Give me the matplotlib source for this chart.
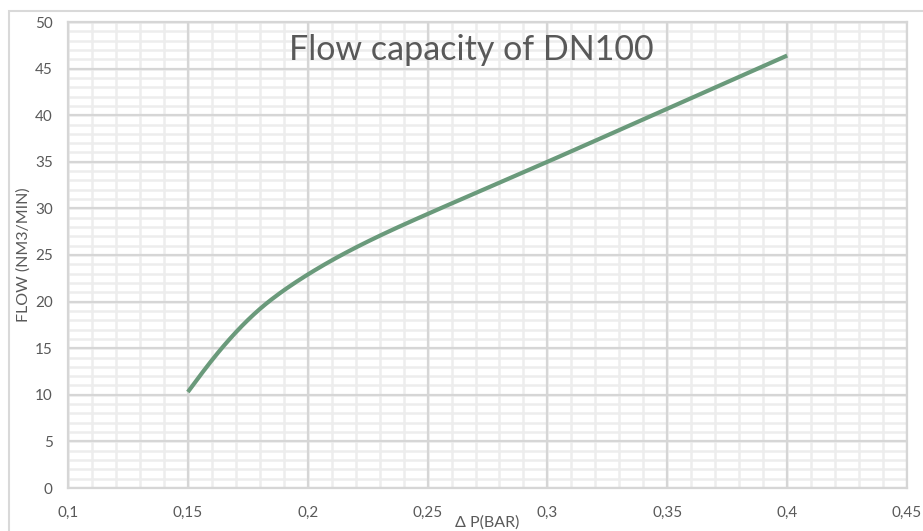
import numpy as np
import matplotlib
matplotlib.use("Agg")
import matplotlib.pyplot as plt
from matplotlib.ticker import FuncFormatter
from matplotlib.patches import Rectangle

# Data
dp_bar = [0.15, 0.16, 0.17, 0.18, 0.19, 0.20, 0.25, 0.30, 0.35, 0.40]
flow = [10.3, 13.7, 16.7, 19.2, 21.2, 22.9, 29.4, 35.0, 40.7, 46.4]
x_ticks = [0.1, 0.15, 0.2, 0.25, 0.3, 0.35, 0.4, 0.45]
y_ticks = [0, 5, 10, 15, 20, 25, 30, 35, 40, 45, 50]
title = "Flow capacity of DN100"
x_label = "Δ P(BAR)"
y_label = "FLOW (NM3/MIN)"

W, H = 923, 531
fig = plt.figure(figsize=(W / 100, H / 100), dpi=100)
fig.patch.set_facecolor("white")

# outer chart-area border
fig.patches.append(Rectangle((9 / W, -0.1), 1.2, (H - 11) / H + 0.1,
                             transform=fig.transFigure, fill=False,
                             edgecolor="#d9d9d9", linewidth=1.5))

left, right, top, bottom = 68, 907, 22, 488
ax = fig.add_axes([left / W, 1 - bottom / H, (right - left) / W, (bottom - top) / H])


def natural_spline(xs, ys, n=400):
    xs = np.asarray(xs, float)
    ys = np.asarray(ys, float)
    k = len(xs)
    h = np.diff(xs)
    A = np.zeros((k, k))
    b = np.zeros(k)
    A[0, 0] = A[-1, -1] = 1.0
    for i in range(1, k - 1):
        A[i, i - 1] = h[i - 1]
        A[i, i] = 2 * (h[i - 1] + h[i])
        A[i, i + 1] = h[i]
        b[i] = 6 * ((ys[i + 1] - ys[i]) / h[i] - (ys[i] - ys[i - 1]) / h[i - 1])
    M = np.linalg.solve(A, b)
    xx = np.linspace(xs[0], xs[-1], n)
    idx = np.clip(np.searchsorted(xs, xx) - 1, 0, k - 2)
    x0, x1 = xs[idx], xs[idx + 1]
    hh = x1 - x0
    a = (x1 - xx) / hh
    bb = (xx - x0) / hh
    yy = (a * ys[idx] + bb * ys[idx + 1] +
          ((a ** 3 - a) * M[idx] + (bb ** 3 - bb) * M[idx + 1]) * hh ** 2 / 6)
    return xx, yy


sx, sy = natural_spline(dp_bar, flow)
ax.plot(sx, sy, color="#6a9a7b", linewidth=3.0, solid_capstyle="butt", zorder=3)

ax.set_xlim(0.1, 0.45)
ax.set_ylim(0, 50)
ax.set_xticks(x_ticks)
ax.set_yticks(y_ticks)

# gridlines: minor first (below), then major
for v in np.arange(0.1, 0.4501, 0.01):
    ax.axvline(v, color="#ededed", linewidth=1.8, zorder=0.2)
for v in np.arange(0, 50.01, 1):
    ax.axhline(v, color="#ededed", linewidth=1.8, zorder=0.2)
for v in x_ticks:
    ax.axvline(v, color="#d6d6d6", linewidth=1.6, zorder=0.5)
for v in y_ticks:
    ax.axhline(v, color="#d6d6d6", linewidth=1.6, zorder=0.5)

fmt = FuncFormatter(lambda v, p: ("%g" % round(v, 4)).replace(".", ","))
ax.xaxis.set_major_formatter(fmt)
ax.yaxis.set_major_formatter(fmt)

for s in ax.spines.values():
    s.set_color("#d6d6d6")
    s.set_linewidth(1.6)

ax.tick_params(which="both", length=0)
ax.tick_params(axis="x", pad=13, labelsize=11, labelcolor="#595959")
ax.tick_params(axis="y", pad=11, labelsize=11, labelcolor="#595959")
for lab in ax.get_xticklabels() + ax.get_yticklabels():
    lab.set_fontfamily("Lato")

fig.text(487.5 / W, 1 - 523 / H, x_label, ha="center", va="center",
         fontsize=11.5, color="#595959", family="Lato")
fig.text(24 / W, 1 - 255 / H, y_label, ha="center", va="center", rotation=90,
         fontsize=11.5, color="#595959", family="Lato")
fig.text(471.5 / W, 1 - 50 / H, title, ha="center", va="center",
         fontsize=24.5, color="#595959", family="Lato", fontweight="normal", zorder=5)

fig.savefig("out.png", dpi=100, facecolor="white")
